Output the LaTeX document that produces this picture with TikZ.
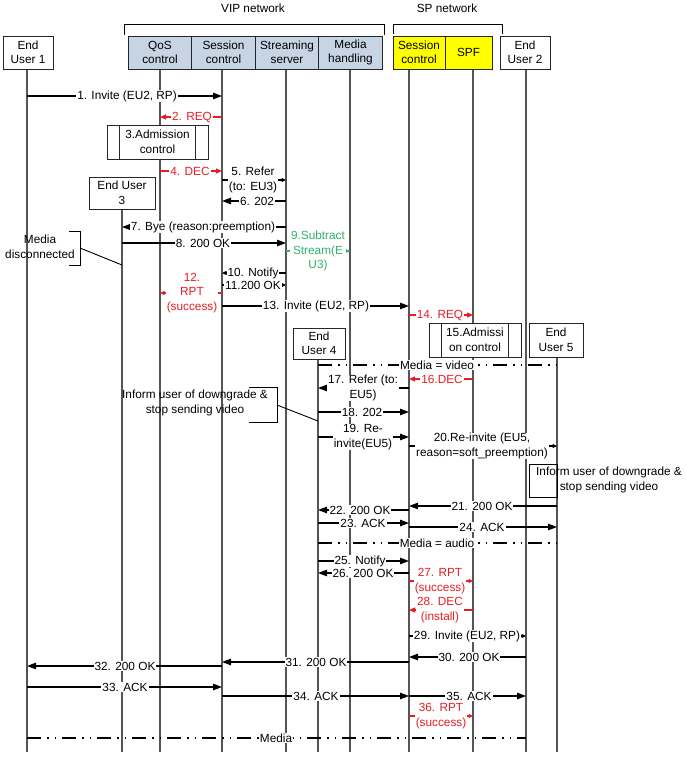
\documentclass[tikz,border=0pt]{standalone}
\usepackage{fontspec}
\setmainfont{Liberation Sans}
\usepackage{xcolor}
\usepackage{tikz}
\usetikzlibrary{positioning,arrows.meta,backgrounds}

\definecolor{vipblue}{RGB}{198,212,228}
\definecolor{spyellow}{RGB}{255,255,0}
\definecolor{sigred}{RGB}{232,28,36}
\definecolor{siggreen}{RGB}{46,178,108}
\definecolor{lifegray}{RGB}{85,85,85}
\newcommand{\seqfont}{\fontsize{11.8}{14.5}\selectfont}

\begin{document}
\begin{tikzpicture}[
  x=1pt, y=-1pt,
  hdr/.style={rectangle, draw=black!85, line width=0.9pt, minimum height=33pt,
              align=center, font=\seqfont, inner sep=1pt, outer sep=0pt},
  user/.style={hdr, fill=white},
  admit/.style={hdr, fill=white, minimum height=34pt,
    path picture={\draw[line width=0.9pt]
      ([xshift=12.5pt]path picture bounding box.north west) -- ([xshift=12.5pt]path picture bounding box.south west)
      ([xshift=-12.5pt]path picture bounding box.north east) -- ([xshift=-12.5pt]path picture bounding box.south east);}},
  lbl/.style={fill=white, inner xsep=1pt, inner ysep=0.5pt, align=center, font=\seqfont},
  note/.style={align=center, font=\seqfont, inner sep=0pt},
  life/.style={draw=lifegray, line width=1.4pt},
  arr/.style={-{Triangle[length=9pt,width=6.5pt]}, line width=1.1pt},
  sarr/.style={-{Triangle[length=4.5pt,width=4pt]}, line width=1.1pt},
  rarr/.style={-{Triangle[length=6pt,width=5pt]}, line width=1.1pt, color=sigred},
  rsarr/.style={-{Triangle[length=4.5pt,width=4pt]}, line width=1.1pt, color=sigred},
  media/.style={line width=2pt, dash pattern=on 14pt off 6pt on 1.5pt off 6pt on 1.5pt off 6pt},
  node distance=0pt,
]
\useasboundingbox (0,0) rectangle (685,757);

% networks
\node[note] (vipnet) at (253,8) {VIP network};
\node[note] (spnet) at (447,8) {SP network};
\draw[line width=0.9pt] (124,35) |- (384,24) -- (384,35);
\draw[line width=0.9pt] (393,34) |- (502,24) -- (502,34);

% header boxes
\node[user, minimum width=50pt] (eu1) at (28,52.5) {End\\User 1};
\node[hdr, fill=vipblue, minimum width=63.5pt] (qos) at (160,52.5) {QoS\\control};
\node[hdr, fill=vipblue, minimum width=63.5pt, right=of qos] (vipsc) {Session\\control};
\node[hdr, fill=vipblue, minimum width=63.5pt, right=of vipsc] (stream) {Streaming\\server};
\node[hdr, fill=vipblue, minimum width=63.5pt, right=of stream] (mediah) {Media\\handling};
\node[hdr, fill=spyellow, minimum width=52pt] (spsc) at (419,52.5) {Session\\control};
\node[hdr, fill=spyellow, minimum width=47pt, right=of spsc] (spf) {SPF};
\node[user, minimum width=50pt] (eu2) at (525,52.5) {End\\User 2};

% lifeline tops
\coordinate (l-eu1) at (27,69);
\coordinate (l-qos) at (160,69);
\coordinate (l-vipsc) at (222,69);
\coordinate (l-stream) at (286,69);
\coordinate (l-media) at (350,69);
\coordinate (l-spsc) at (409,69);
\coordinate (l-spf) at (473,69);
\coordinate (l-eu2) at (526,69);
\coordinate (l-eu3) at (122,209);
\coordinate (l-eu4) at (318,359);
\coordinate (l-eu5) at (557,357);
\coordinate (bottom) at (0,752);

% boxes on the lifelines
\node[admit, minimum width=101pt] (adm3) at (157.5,142) {3.Admission\\control};
\node[user, minimum width=66pt, minimum height=32pt] (eu3) at (122,193) {End User\\3};
\node[user, minimum width=52pt, minimum height=31pt] (eu4) at (319,343.5) {End\\User 4};
\node[admit, minimum width=92pt] (adm15) at (475,340) {15.Admissi\\on control};
\node[user, minimum width=54pt, minimum height=34pt] (eu5) at (556,340) {End\\User 5};

% notes
\node[note] (mdis) at (40,247) {Media\\disconnected};
\coordinate (mdis-tip) at (122,265);
\draw[line width=0.9pt] (69,231) -| (80,265) -- (69,265);
\draw[line width=0.9pt] (80,248) -- (mdis-tip);

\node[note] (infl) at (195,403) {Inform user of downgrade \&\\stop sending video};
\coordinate (infl-tip) at (318,421);
\draw[line width=0.9pt] (249,387) -| (277,422) -- (249,422);
\draw[line width=0.9pt] (277,405) -- (infl-tip);

\draw[line width=0.9pt] (529,464) rectangle (557,497);
\node[note] (infr) at (609,480) {Inform user of downgrade \&\\stop sending video};

% message labels
\node[lbl] (m1) at (127,96) {1. Invite (EU2, RP)};
\node[lbl, text=sigred] (m2) at (192,117) {2. REQ};
\node[lbl, text=sigred] (m4) at (190,171) {4. DEC};
\node[lbl] (m5) at (253,180) {5. Refer\\(to: EU3)};
\node[lbl] (m6) at (257,201) {6. 202};
\node[lbl] (m7) at (203,227) {7. Bye (reason:preemption)};
\node[lbl] (m8) at (203,243) {8. 200 OK};
\node[lbl, text=siggreen] (m9) at (318,251) {9.Subtract\\Stream(E\\U3)};
\node[lbl] (m10) at (253,273) {10. Notify};
\node[lbl] (m11) at (253,285) {11.200 OK};
\node[lbl, text=sigred] (m12) at (192,293) {12.\\RPT\\(success)};
\node[lbl] (m13) at (316,306) {13. Invite (EU2, RP)};
\node[lbl, text=sigred] (m14) at (440,315) {14. REQ};
\node[lbl] (mvid) at (437,365) {Media = video};
\node[lbl, text=sigred] (m16) at (442,379) {16.DEC};
\node[lbl] (m17) at (363,388) {17. Refer (to:\\EU5)};
\node[lbl] (m18) at (362,412) {18. 202};
\node[lbl] (m19) at (363,437) {19. Re-\\invite(EU5)};
\node[lbl] (m20) at (482,446) {20.Re-invite (EU5,\\reason=soft\_preemption)};
\node[lbl] (m21) at (482,506) {21. 200 OK};
\node[lbl] (m22) at (360,510) {22. 200 OK};
\node[lbl] (m23) at (363,523) {23. ACK};
\node[lbl] (m24) at (482,527) {24. ACK};
\node[lbl] (maud) at (437,543) {Media = audio};
\node[lbl] (m25) at (360,561) {25. Notify};
\node[lbl] (m26) at (363,573) {26. 200 OK};
\node[lbl, text=sigred] (m27) at (440,581) {27. RPT\\(success)};
\node[lbl, text=sigred] (m28) at (440,610) {28. DEC\\(install)};
\node[lbl] (m29) at (467,636) {29. Invite (EU2, RP)};
\node[lbl] (m30) at (469,657) {30. 200 OK};
\node[lbl] (m31) at (316,662) {31. 200 OK};
\node[lbl] (m32) at (125,666) {32. 200 OK};
\node[lbl] (m33) at (125,687) {33. ACK};
\node[lbl] (m34) at (316,696) {34. ACK};
\node[lbl] (m35) at (469,696) {35. ACK};
\node[lbl, text=sigred] (m36) at (441,716) {36. RPT\\(success)};
\node[lbl] (mmed) at (276,738) {Media};

\begin{pgfonlayer}{background}
% lifelines
\draw[life] (l-eu1) -- (l-eu1 |- bottom);
\draw[life] (l-qos) -- (l-qos |- bottom);
\draw[life] (l-vipsc) -- (l-vipsc |- bottom);
\draw[life] (l-stream) -- (l-stream |- bottom);
\draw[life] (l-media) -- (l-media |- bottom);
\draw[life] (l-spsc) -- (l-spsc |- bottom);
\draw[life] (l-spf) -- (l-spf |- bottom);
\draw[life] (l-eu2) -- (l-eu2 |- bottom);
\draw[life] (l-eu3) -- (l-eu3 |- bottom);
\draw[life] (l-eu4) -- (l-eu4 |- bottom);
\draw[life] (l-eu5) -- (l-eu5 |- bottom);

% messages
\draw[arr] (l-eu1 |- m1) -- (l-vipsc |- m1);
\draw[rarr] (l-vipsc |- m2) -- (l-qos |- m2);
\draw[rarr] (l-qos |- m4) -- (l-vipsc |- m4);
\draw[sarr] (l-vipsc |- m5) -- (l-stream |- m5);
\draw[arr] (l-stream |- m6) -- (l-vipsc |- m6);
\draw[arr] (l-stream |- m7) -- (l-eu3 |- m7);
\draw[arr] (l-eu3 |- m8) -- (l-stream |- m8);
\draw[sarr, color=siggreen] (l-stream |- m9) -- (l-media |- m9);
\draw[sarr] (l-stream |- m10) -- (l-vipsc |- m10);
\draw[sarr] (l-vipsc |- m11) -- (l-stream |- m11);
\draw[rsarr] (l-vipsc |- m12) -- (l-qos |- m12);
\draw[arr] (l-vipsc |- m13) -- (l-spsc |- m13);
\draw[rarr] (l-spsc |- m14) -- (l-spf |- m14);
\draw[media] (l-eu4 |- mvid) -- (l-eu5 |- mvid);
\draw[rarr] (l-spf |- m16) -- (l-spsc |- m16);
\draw[arr] (l-spsc |- m17) -- (l-eu4 |- m17);
\draw[arr] (l-eu4 |- m18) -- (l-spsc |- m18);
\draw[arr] (l-eu4 |- m19) -- (l-spsc |- m19);
\draw[sarr] (l-spsc |- m20) -- (l-eu5 |- m20);
\draw[arr] (l-eu5 |- m21) -- (l-spsc |- m21);
\draw[arr] (l-spsc |- m22) -- (l-eu4 |- m22);
\draw[arr] (l-eu4 |- m23) -- (l-spsc |- m23);
\draw[arr] (l-spsc |- m24) -- (l-eu5 |- m24);
\draw[media] (l-eu4 |- maud) -- (l-eu5 |- maud);
\draw[arr] (l-eu4 |- m25) -- (l-spsc |- m25);
\draw[arr] (l-spsc |- m26) -- (l-eu4 |- m26);
\draw[rsarr] (l-spsc |- m27) -- (l-spf |- m27);
\draw[rarr] (l-spf |- m28) -- (l-spsc |- m28);
\draw[sarr] (l-spsc |- m29) -- (l-eu2 |- m29);
\draw[arr] (l-eu2 |- m30) -- (l-spsc |- m30);
\draw[arr] (l-spsc |- m31) -- (l-vipsc |- m31);
\draw[arr] (l-vipsc |- m32) -- (l-eu1 |- m32);
\draw[arr] (l-eu1 |- m33) -- (l-vipsc |- m33);
\draw[arr] (l-vipsc |- m34) -- (l-spsc |- m34);
\draw[arr] (l-spsc |- m35) -- (l-eu2 |- m35);
\draw[rsarr] (l-spsc |- m36) -- (l-spf |- m36);
\draw[media] (l-eu1 |- mmed) -- (l-eu2 |- mmed);
\end{pgfonlayer}
\end{tikzpicture}
\end{document}
